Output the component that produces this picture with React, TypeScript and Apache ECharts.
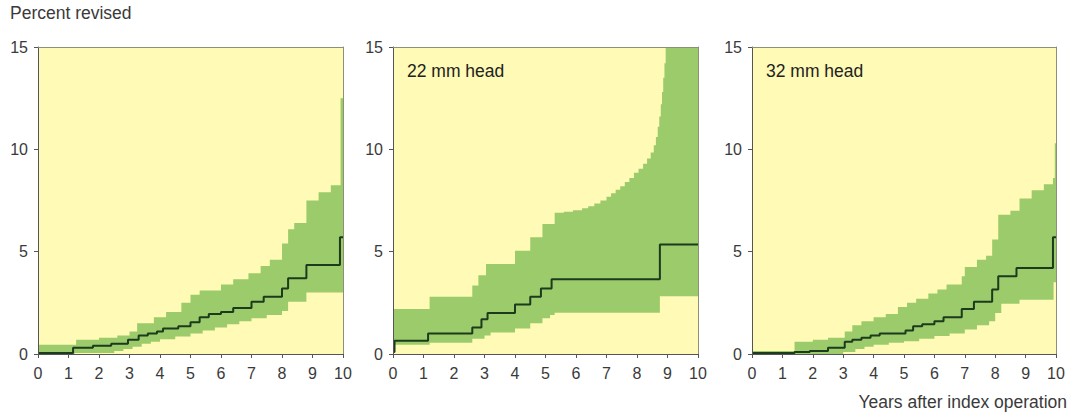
import React, { useEffect, useRef } from "react";
import * as echarts from "echarts";

// Panel 1 (all)
const p1LineX = [0, 1.15, 1.8, 2.4, 2.95, 3.3, 3.6, 3.9, 4.1, 4.6, 5.0, 5.3, 5.6, 6.0, 6.4, 7.0, 7.4, 8.0, 8.2, 8.8, 9.9, 10];
const p1LineY = [0.05, 0.3, 0.4, 0.5, 0.7, 0.9, 1.0, 1.1, 1.25, 1.35, 1.55, 1.8, 1.95, 2.05, 2.25, 2.55, 2.8, 3.2, 3.7, 4.35, 5.7, 5.7];
const p1UpX = [0, 1.25, 2.0, 2.6, 3.0, 3.25, 3.8, 4.2, 4.7, 5.0, 5.3, 6.0, 6.4, 6.9, 7.3, 7.6, 8.0, 8.2, 8.4, 8.8, 9.2, 9.6, 9.92, 10];
const p1UpY = [0.45, 0.7, 0.8, 0.9, 1.1, 1.5, 1.8, 2.05, 2.5, 2.9, 3.1, 3.4, 3.65, 3.95, 4.3, 4.6, 5.4, 6.1, 6.4, 7.5, 7.9, 8.25, 12.5, 12.5];
const p1LoX = [0, 1.2, 2.5, 2.8, 3.1, 3.4, 3.7, 4.0, 4.5, 5.0, 5.4, 5.8, 6.2, 6.6, 7.0, 7.5, 8.0, 8.2, 8.8, 10];
const p1LoY = [0, 0.05, 0.15, 0.25, 0.35, 0.5, 0.6, 0.72, 0.85, 1.0, 1.15, 1.3, 1.45, 1.6, 1.75, 1.9, 2.1, 2.55, 3.0, 3.0];

// Panel 2 (22 mm head)
const p2LineX = [0, 0.05, 1.15, 2.6, 2.9, 3.1, 4.0, 4.5, 4.85, 5.2, 8.75, 10];
const p2LineY = [0.1, 0.65, 1.0, 1.3, 1.7, 2.0, 2.42, 2.8, 3.2, 3.65, 5.35, 5.35];
const p2UpX = [0, 1.2, 2.6, 2.8, 3.05, 4.0, 4.5, 4.9, 5.3, 5.6, 5.9, 6.2, 6.4, 6.6, 6.8, 7.0, 7.15, 7.3, 7.45, 7.6, 7.75, 7.9, 8.05, 8.2, 8.33, 8.45, 8.55, 8.62, 8.68, 8.73, 8.78, 8.82, 8.86, 8.9, 8.94, 10];
const p2UpY = [2.2, 2.8, 3.35, 3.85, 4.4, 5.05, 5.7, 6.35, 6.9, 6.95, 7.02, 7.12, 7.22, 7.35, 7.5, 7.68, 7.85, 8.02, 8.2, 8.4, 8.6, 8.85, 9.05, 9.3, 9.55, 9.85, 10.2, 10.6, 11.1, 11.6, 12.2, 12.8, 13.5, 14.2, 15, 15];
const p2LoX = [0, 1.2, 2.6, 3.0, 3.2, 4.0, 4.5, 4.9, 5.15, 5.3, 8.75, 10];
const p2LoY = [0.45, 0.55, 0.75, 0.9, 1.05, 1.25, 1.5, 1.75, 1.9, 2.02, 2.82, 2.82];

// Panel 3 (32 mm head)
const p3LineX = [0, 1.4, 1.9, 2.5, 3.05, 3.3, 3.6, 3.9, 4.2, 5.05, 5.3, 5.6, 6.0, 6.3, 6.9, 7.3, 7.9, 8.1, 8.7, 9.9, 10];
const p3LineY = [0.05, 0.1, 0.15, 0.3, 0.6, 0.7, 0.8, 0.9, 1.0, 1.15, 1.35, 1.45, 1.6, 1.8, 2.2, 2.55, 3.15, 3.8, 4.2, 5.7, 5.7];
const p3UpX = [0, 1.4, 2.0, 2.5, 3.05, 3.3, 3.6, 4.0, 4.4, 4.8, 5.1, 5.4, 5.8, 6.1, 6.4, 6.9, 7.0, 7.4, 7.7, 7.9, 8.1, 8.5, 8.8, 9.2, 9.6, 9.9, 9.96, 10];
const p3UpY = [0.15, 0.6, 0.7, 0.8, 1.1, 1.4, 1.6, 1.8, 1.95, 2.3, 2.5, 2.7, 2.95, 3.15, 3.4, 3.8, 4.25, 4.6, 4.8, 5.6, 6.8, 7.0, 7.6, 8.0, 8.3, 8.6, 10.3, 10.3];
const p3LoX = [0, 3.0, 3.4, 3.7, 4.0, 4.5, 5.0, 5.5, 6.0, 6.5, 7.0, 7.4, 7.8, 8.0, 8.2, 8.8, 9.92, 10];
const p3LoY = [0, 0.1, 0.25, 0.35, 0.45, 0.55, 0.62, 0.75, 0.88, 1.0, 1.2, 1.4, 1.6, 2.0, 2.45, 2.65, 3.5, 3.5];

const panelLabels = ["", "22 mm head", "32 mm head"];
const yTitle = "Percent revised";
const xTitle = "Years after index operation";

const YELLOW = "#fffab6";
const GREEN = "#9ccb6b";
const LINE = "#1c3a1c";
const AXIS = "#555555";
const BORDER = "#8f8f78";
const TEXT = "#3a3a3a";
const FONT = "Liberation Sans, Arial, sans-serif";

const zip = (xs: number[], ys: number[]) => xs.map((x, i) => [x, ys[i]]);

export default function App() {
  const ref = useRef<HTMLDivElement>(null);
  useEffect(() => {
    if (!ref.current) return;
    const chart = echarts.init(ref.current, undefined, { renderer: "svg" });
    const panels = [
      { line: zip(p1LineX, p1LineY), up: zip(p1UpX, p1UpY), lo: zip(p1LoX, p1LoY) },
      { line: zip(p2LineX, p2LineY), up: zip(p2UpX, p2UpY), lo: zip(p2LoX, p2LoY) },
      { line: zip(p3LineX, p3LineY), up: zip(p3UpX, p3UpY), lo: zip(p3LoX, p3LoY) },
    ];
    const grids = [
      { left: 38, top: 47, width: 305, height: 307 },
      { left: 393, top: 47, width: 305, height: 307 },
      { left: 752, top: 47, width: 304, height: 307 },
    ];
    const xAxes: any[] = [];
    const yAxes: any[] = [];
    grids.forEach((_, i) => {
      xAxes.push({
        type: "value", gridIndex: i, min: 0, max: 10, interval: 1, z: 5,
        axisLine: { show: true, lineStyle: { color: AXIS, width: 1 } },
        axisTick: { show: true, inside: false, length: 4, lineStyle: { color: AXIS } },
        axisLabel: { fontSize: 16, color: TEXT, fontFamily: FONT, margin: 11 },
        splitLine: { show: false },
      });
      yAxes.push({
        type: "value", gridIndex: i, min: 0, max: 15, interval: 5, z: 5,
        axisLine: { show: true, lineStyle: { color: AXIS, width: 1 } },
        axisTick: { show: true, inside: false, length: 4, lineStyle: { color: AXIS } },
        axisLabel: { fontSize: 16, color: TEXT, fontFamily: FONT, margin: 10 },
        splitLine: { show: false },
      });
    });
    grids.forEach((_, i) => {
      xAxes.push({
        type: "value", gridIndex: i, min: 0, max: 10, position: "top", z: 5,
        axisLine: { show: true, onZero: false, lineStyle: { color: BORDER, width: 1 } },
        axisTick: { show: false }, axisLabel: { show: false }, splitLine: { show: false },
      });
      yAxes.push({
        type: "value", gridIndex: i, min: 0, max: 15, position: "right", z: 5,
        axisLine: { show: true, onZero: false, lineStyle: { color: BORDER, width: 1 } },
        axisTick: { show: false }, axisLabel: { show: false }, splitLine: { show: false },
      });
    });
    const series: any[] = [];
    panels.forEach((p, i) => {
      series.push({
        type: "line", xAxisIndex: i, yAxisIndex: i, data: p.up, step: "end",
        symbol: "none", silent: true, lineStyle: { width: 0, opacity: 0 },
        areaStyle: { color: GREEN, opacity: 1 },
      });
      series.push({
        type: "line", xAxisIndex: i, yAxisIndex: i, data: p.lo, step: "end",
        symbol: "none", silent: true, lineStyle: { width: 0, opacity: 0 },
        areaStyle: { color: YELLOW, opacity: 1 },
      });
      series.push({
        type: "line", xAxisIndex: i, yAxisIndex: i, data: p.line, step: "end",
        symbol: "none", silent: true, lineStyle: { color: LINE, width: 2 },
      });
    });
    const graphic: any[] = [
      { type: "text", left: 10, top: 4, style: { text: yTitle, fontSize: 17.5, fill: TEXT, fontFamily: FONT } },
      { type: "text", right: 10, top: 393, style: { text: xTitle, fontSize: 17.5, fill: TEXT, fontFamily: FONT } },
    ];
    panelLabels.forEach((t, i) => {
      if (!t) return;
      graphic.push({
        type: "text", left: grids[i].left + 14, top: 62, z: 10,
        style: { text: t, fontSize: 17.5, fill: "#222", fontFamily: FONT },
      });
    });
    chart.setOption({
      animation: false,
      backgroundColor: "#ffffff",
      grid: grids.map((g) => ({ ...g, show: true, backgroundColor: YELLOW, borderWidth: 0 })),
      xAxis: xAxes,
      yAxis: yAxes,
      series,
      graphic,
    });
    return () => chart.dispose();
  }, []);
  return (
    <div
      ref={ref}
      style={{ position: "absolute", left: 0, top: 0, width: 1077, height: 418 }}
    />
  );
}
